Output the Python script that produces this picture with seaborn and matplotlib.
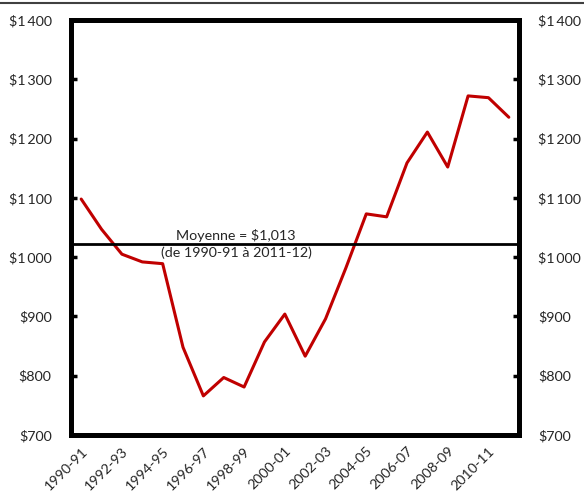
import matplotlib
matplotlib.use("Agg")
import matplotlib.pyplot as plt
import matplotlib.ticker as mticker
from matplotlib.lines import Line2D
import pandas as pd
import seaborn as sns

# =========================================================
# DONNÉES
# =========================================================
annees = [
    "1990-91", "1991-92", "1992-93", "1993-94", "1994-95", "1995-96",
    "1996-97", "1997-98", "1998-99", "1999-00", "2000-01", "2001-02",
    "2002-03", "2003-04", "2004-05", "2005-06", "2006-07", "2007-08",
    "2008-09", "2009-10", "2010-11", "2011-12",
]
valeurs = [
    1098, 1047, 1005, 992, 989, 848,
    766, 797, 781, 857, 904, 833,
    896, 982, 1073, 1068, 1159, 1211,
    1152, 1272, 1269, 1236,
]
ligne_moyenne = 1022
texte_moyenne = "Moyenne = $1,013"
texte_periode = "(de 1990-91 à 2011-12)"
ticks_y = [700, 800, 900, 1000, 1100, 1200, 1300, 1400]

df = pd.DataFrame({"annee": annees, "valeur": valeurs})
df["pos"] = range(len(df))

# =========================================================
# FIGURE
# =========================================================
sns.set_style("white")
plt.rcParams["font.family"] = ["Lato", "DejaVu Sans"]
taille = 10.3

fig = plt.figure(figsize=(5.84, 4.93), dpi=100)
ax = fig.add_axes([0.1216, 0.1176, 0.7671, 0.8418])

sns.lineplot(data=df, x="pos", y="valeur", ax=ax, color="#c00000",
             linewidth=2.2, sort=False)

ax.axhline(ligne_moyenne, color="black", linewidth=2)
centre = 7.6
ax.text(centre, ligne_moyenne + 3, texte_moyenne, ha="center", va="bottom",
        fontsize=taille)
ax.text(centre, ligne_moyenne - 4, texte_periode, ha="center", va="top",
        fontsize=taille)

n = len(annees)
ax.set_xlim(-0.5, n - 0.5)
ax.set_ylim(700, 1400)

# axe x : étiquettes une année sur deux, graduations entre catégories
ax.set_xticks(df["pos"][::2])
ax.set_xticklabels(df["annee"][::2], rotation=45, ha="right",
                   rotation_mode="anchor", fontsize=taille)
ax.set_xticks([i - 0.5 for i in range(1, n)], minor=True)
ax.tick_params(axis="x", which="major", length=0, pad=7)
ax.tick_params(axis="x", which="minor", direction="in", length=4, width=2.5,
               color="black")

fmt = mticker.FuncFormatter(lambda v, p: "$" + f"{v:,.0f}".replace(",", "\u2009"))
ax.set_yticks(ticks_y)
ax.yaxis.set_major_formatter(fmt)
ax.tick_params(axis="y", direction="in", length=4, width=2.5, color="black",
               labelsize=taille, pad=14)

ax2 = ax.twinx()
ax2.set_ylim(ax.get_ylim())
ax2.set_yticks(ticks_y)
ax2.yaxis.set_major_formatter(fmt)
ax2.tick_params(axis="y", direction="in", length=4, width=2.5, color="black",
                labelsize=taille, pad=14)

for a in (ax, ax2):
    for s in a.spines.values():
        s.set_visible(True)
        s.set_color("black")
        s.set_linewidth(3.5)

ax.set_xlabel("")
ax.set_ylabel("")

# trait horizontal en haut de la figure
fig.add_artist(Line2D([0, 1], [1 - 3 / 493, 1 - 3 / 493], color="#404040",
                      linewidth=1.5, transform=fig.transFigure))

fig.savefig("out.png", dpi=100)
